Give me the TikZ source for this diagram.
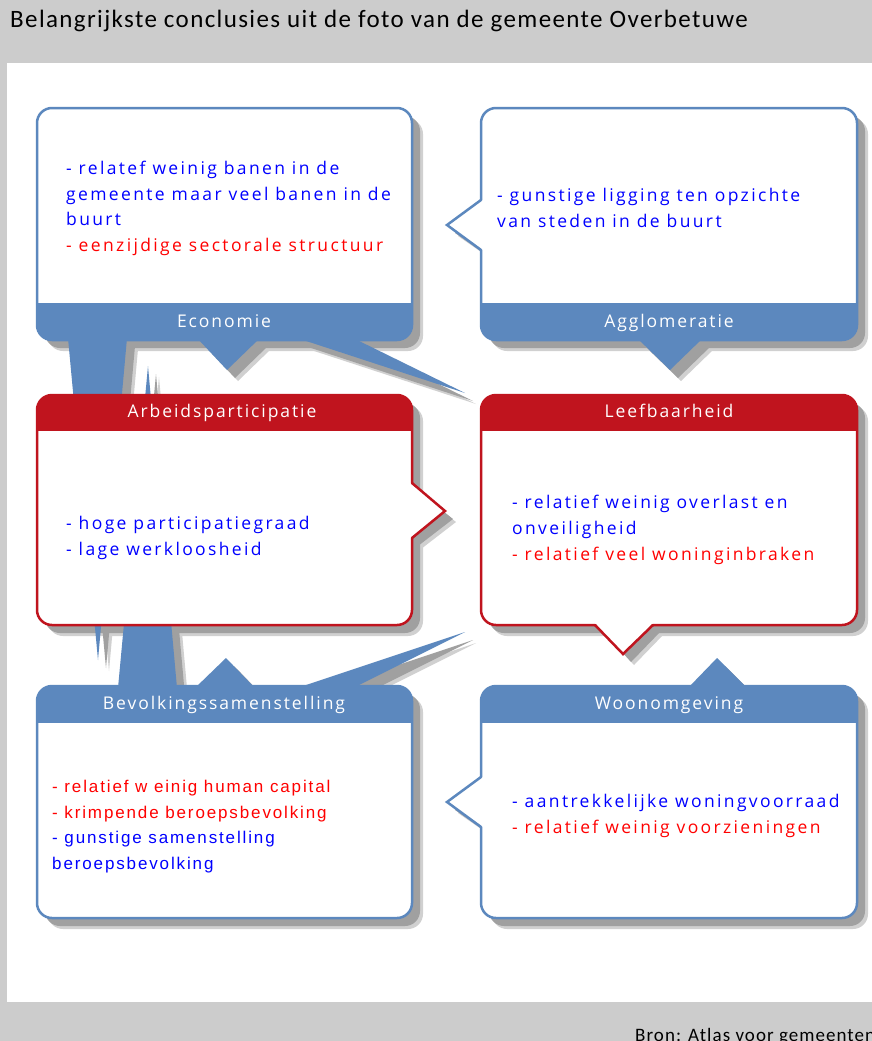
\documentclass[tikz,border=0pt]{standalone}
\usepackage{fontspec}
\setmainfont{Carlito}
\newfontfamily\titelfont[LetterSpace=5.5]{Carlito}
\newfontfamily\kopfont[LetterSpace=11.0]{Open Sans}
\newfontfamily\boxfont[LetterSpace=13.5]{Open Sans}
\newfontfamily\arialfont[LetterSpace=11.0]{Liberation Sans}
\usepackage{tikz}
\definecolor{blauw}{RGB}{92,136,190}
\definecolor{rood}{RGB}{192,20,30}
\definecolor{schaduw}{RGB}{160,160,160}
\definecolor{schaduwrand}{RGB}{208,208,208}
\definecolor{achtergrond}{RGB}{204,204,204}
\definecolor{tekstblauw}{RGB}{0,0,255}
\definecolor{tekstrood}{RGB}{255,0,0}
\tikzstyle{kader}=[rounded corners=15, line width=2.5pt, fill=white]
\tikzstyle{rand}=[line width=2.5pt, line join=miter]
\tikzstyle{kop}=[font=\kopfont\fontsize{17.5}{20}\selectfont, text=white, inner sep=0pt, anchor=base]
\tikzstyle{inhoud}=[font=\boxfont\fontsize{17.5}{25.8}\selectfont, align=left, anchor=west, inner sep=0pt, text=tekstblauw]
\newcommand{\minpunt}[1]{\textcolor{tekstrood}{#1}}

\begin{document}
\begin{tikzpicture}[x=1pt, y=-1pt]
\fill[achtergrond] (0,0) rectangle (872,1041);
\useasboundingbox (0,0) rectangle (872,1041);
\fill[white] (7,63) rectangle (872,1002);
\node[anchor=base west, font=\titelfont\fontsize{25}{28}\selectfont, inner sep=0pt] (titel) at (10,28) {Belangrijkste conclusies uit de foto van de gemeente Overbetuwe};
\node[anchor=base west, font=\titelfont\fontsize{19}{22}\selectfont, inner sep=0pt] (bron) at (635,1041) {Bron: Atlas voor gemeenten};

% schaduwen
\foreach \d/\c in {11/schaduwrand, 8/schaduw} {
  \fill[\c, shift={(\d,\d)}, rounded corners=15]
    (37,108) rectangle (412,340) (481,108) rectangle (857,340)
    (37,395) rectangle (412,625) (481,395) rectangle (857,625)
    (37,686) rectangle (412,918) (481,686) rectangle (857,918);
  \fill[\c, shift={(\d,\d)}]
    (68,338) -- (127,338) -- (98,660) -- cycle
    (197,338) -- (260,338) -- (227,370) -- cycle
    (297,338) -- (353,338) -- (465,393) -- cycle
    (637,338) -- (703,338) -- (670,370) -- cycle
    (483,200) -- (447,225) -- (483,250) -- cycle
    (410,483) -- (445,511) -- (410,538) -- cycle
    (595,623) -- (623,654) -- (653,623) -- cycle
    (118,688) -- (177,688) -- (148,366) -- cycle
    (195,688) -- (255,688) -- (226,658) -- cycle
    (297,688) -- (353,688) -- (465,632) -- cycle
    (688,688) -- (747,688) -- (717,658) -- cycle
    (483,777) -- (447,802) -- (483,827) -- cycle;
}

% Economie
\fill[blauw] (68,338) -- (127,338) -- (98,660) -- cycle
  (197,338) -- (260,338) -- (227,370) -- cycle
  (297,338) -- (353,338) -- (465,393) -- cycle;
\draw[kader, draw=blauw] (37,108) rectangle (412,340);
\begin{scope}
  \clip (30,303) rectangle (420,350);
  \fill[blauw, rounded corners=15] (37,108) rectangle (412,340);
\end{scope}
\node[kop] (economie) at (224,327) {Economie};
\node[inhoud] (economietekst) at (66,208.5) {- relatef weinig banen in de\\gemeente maar veel banen in de\\buurt\\\minpunt{- eenzijdige sectorale structuur}};

% Agglomeratie
\fill[blauw] (637,338) -- (703,338) -- (670,370) -- cycle;
\draw[kader, draw=blauw] (481,108) rectangle (857,340);
\begin{scope}
  \clip (470,303) rectangle (870,350);
  \fill[blauw, rounded corners=15] (481,108) rectangle (857,340);
\end{scope}
\fill[white] (483,200) -- (447,225) -- (483,250) -- cycle;
\draw[rand, blauw] (481,200) -- (447,225) -- (481,250);
\node[kop] (agglomeratie) at (669,327) {Agglomeratie};
\node[inhoud] (agglomeratietekst) at (497,208) {- gunstige ligging ten opzichte\\van steden in de buurt};

% Bevolkingssamenstelling
\fill[blauw] (118,688) -- (177,688) -- (148,366) -- cycle
  (195,688) -- (255,688) -- (226,658) -- cycle
  (297,688) -- (353,688) -- (465,632) -- cycle;
\draw[kader, draw=blauw] (37,686) rectangle (412,918);
\begin{scope}
  \clip (30,680) rectangle (420,722);
  \fill[blauw, rounded corners=15] (37,686) rectangle (412,918);
\end{scope}
\node[kop] (bevolking) at (224,709.5) {Bevolkingssamenstelling};
\node[inhoud, font=\arialfont\fontsize{17}{25.8}\selectfont] (bevolkingtekst) at (52,826.5) {\minpunt{- relatief w einig human capital}\\\minpunt{- krimpende beroepsbevolking}\\- gunstige samenstelling\\beroepsbevolking};

% Woonomgeving
\fill[blauw] (688,688) -- (747,688) -- (717,658) -- cycle;
\draw[kader, draw=blauw] (481,686) rectangle (857,918);
\begin{scope}
  \clip (470,680) rectangle (870,722);
  \fill[blauw, rounded corners=15] (481,686) rectangle (857,918);
\end{scope}
\fill[white] (483,777) -- (447,802) -- (483,827) -- cycle;
\draw[rand, blauw] (481,777) -- (447,802) -- (481,827);
\node[kop] (woonomgeving) at (669,709.5) {Woonomgeving};
\node[inhoud] (woonomgevingtekst) at (512,816) {- aantrekkelijke woningvoorraad\\\minpunt{- relatief weinig voorzieningen}};

% Arbeidsparticipatie
\draw[kader, draw=rood] (37,395) rectangle (412,625);
\begin{scope}
  \clip (30,390) rectangle (420,430);
  \fill[rood, rounded corners=15] (37,395) rectangle (412,625);
\end{scope}
\fill[white] (410,483) -- (445,511) -- (410,538) -- cycle;
\draw[rand, rood] (412,483) -- (445,511) -- (412,538);
\node[kop] (arbeid) at (222,417.5) {Arbeidsparticipatie};
\node[inhoud] (arbeidtekst) at (66,538) {- hoge participatiegraad\\- lage werkloosheid};

% Leefbaarheid
\draw[kader, draw=rood] (481,395) rectangle (857,625);
\begin{scope}
  \clip (470,390) rectangle (870,430);
  \fill[rood, rounded corners=15] (481,395) rectangle (857,625);
\end{scope}
\fill[white] (595,623) -- (623,654) -- (653,623) -- cycle;
\draw[rand, rood] (595,625) -- (623,654) -- (653,625);
\node[kop] (leefbaarheid) at (669,417.5) {Leefbaarheid};
\node[inhoud] (leefbaarheidtekst) at (512,530) {- relatief weinig overlast en\\onveiligheid\\\minpunt{- relatief veel woninginbraken}};
\end{tikzpicture}
\end{document}
